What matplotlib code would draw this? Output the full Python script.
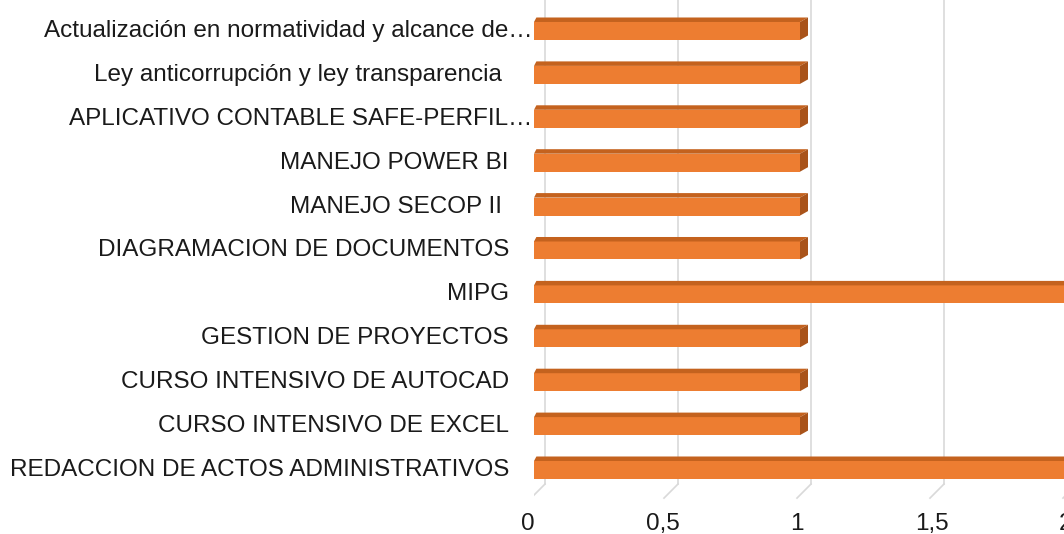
import matplotlib.pyplot as plt
from matplotlib.patches import Polygon
from matplotlib.transforms import offset_copy

plt.rcParams['font.family'] = ['Liberation Sans', 'DejaVu Sans']

# categories from bottom to top
labels = [
    "REDACCION DE ACTOS ADMINISTRATIVOS",
    "CURSO INTENSIVO DE EXCEL",
    "CURSO INTENSIVO DE AUTOCAD",
    "GESTION DE PROYECTOS",
    "MIPG",
    "DIAGRAMACION DE DOCUMENTOS",
    "MANEJO SECOP II ",
    "MANEJO POWER BI",
    "APLICATIVO CONTABLE SAFE-PERFIL\u2026",
    "Ley anticorrupción y ley transparencia ",
    "Actualización en normatividad y alcance de\u2026",
]
values = [2, 1, 1, 1, 2, 1, 1, 1, 1, 1, 1]
truncated = [False, False, False, False, False, False, False, False, True, False, True]
xticks = [0, 0.5, 1, 1.5, 2]
xtick_labels = ["0", "0,5", "1", "1,5", "2"]

front = "#ED7D31"
top = "#C4621E"
side = "#A9531A"
grid = "#D9D9D9"
txt = "#1A1A1A"

W, H = 1064, 534
fig = plt.figure(figsize=(W / 100, H / 100), dpi=100)
ax_l, ax_w = 534, 532
ax = fig.add_axes([ax_l / W, 0, ax_w / W, 1])
ax.set_xlim(0, 2)
ax.set_ylim(-1.458, 10.706)
ax.axis("off")

ppx = ax_w / 2.0          # px per x unit
ppy = H / (10.706 + 1.458)  # px per y unit
dx = 8 / ppx
dy = 4.5 / ppy
bh = 0.41

# back wall gridlines with floor stubs
for v in xticks:
    xb = v + 11 / ppx
    ax.plot([xb, xb], [10.706, -0.32], color=grid, lw=1.2, zorder=1)
    ax.plot([xb, v - 3 / ppx], [-0.32, -0.64], color=grid, lw=1.2, zorder=1)

ypos = list(range(len(labels)))
bars = ax.barh(ypos, values, height=bh, color=front, edgecolor="none", zorder=3)

for b in bars:
    x0 = b.get_x()
    x1 = x0 + b.get_width()
    y0 = b.get_y()
    y1 = y0 + b.get_height()
    ax.add_patch(Polygon([(x0, y1), (x1, y1), (x1 + dx, y1 + dy), (x0 + dx * 0.3, y1 + dy)],
                         closed=True, facecolor=top, edgecolor="none", zorder=3))
    ax.add_patch(Polygon([(x1, y0), (x1 + dx, y0 + dy), (x1 + dx, y1 + dy), (x1, y1)],
                         closed=True, facecolor=side, edgecolor="none", zorder=3))

# category labels
for y, lab, tr in zip(ypos, labels, truncated):
    off = -2 if tr else -25
    t = offset_copy(ax.transData, fig=fig, x=off, y=0, units="dots")
    ax.text(0, y, lab, transform=t, ha="right", va="center", fontsize=17.5, color=txt, clip_on=False)

# x tick labels
for v, s in zip(xticks, xtick_labels):
    t = offset_copy(ax.transData, fig=fig, x=-6 + 3 * v, y=0, units="dots")
    ax.text(v, -1.23, s, transform=t, ha="center", va="center", fontsize=17.5, color=txt, clip_on=False)

fig.savefig("out.png", dpi=100)
